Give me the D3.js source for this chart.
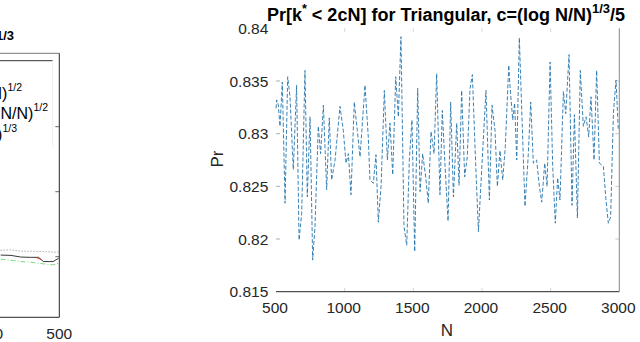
<!DOCTYPE html>
<html>
<head>
<meta charset="utf-8">
<script src="https://cdn.jsdelivr.net/npm/d3@7"></script>
<style>
  body { margin: 0; background: #fff; }
  svg { display: block; font-family: "Liberation Sans", Arial, Helvetica, sans-serif; }
</style>
</head>
<body>
<div id="chart"></div>
<script>
// right panel: Pr[k* < 2cN] vs N
let prN = [500, 505, 517, 529, 546, 566, 585, 602, 626, 650, 668, 687, 711, 728, 748, 767, 784, 808, 825, 845,
  869, 888, 905, 930, 966, 990, 1010, 1027, 1046, 1070, 1092, 1112, 1148, 1172, 1184, 1209, 1228, 1245, 1265, 1289,
  1311, 1330, 1350, 1372, 1391, 1410, 1432, 1452, 1471, 1490, 1510, 1532, 1549, 1568, 1590, 1609, 1629, 1651, 1670, 1694,
  1711, 1731, 1753, 1772, 1792, 1816, 1833, 1852, 1874, 1893, 1913, 1930, 1949, 1974, 1998, 2029, 2054, 2073, 2095, 2112,
  2131, 2151, 2170, 2195, 2204, 2224, 2238, 2253, 2272, 2292, 2313, 2335, 2355, 2374, 2398, 2418, 2435, 2457, 2474, 2496,
  2515, 2534, 2551, 2568, 2593, 2610, 2634, 2656, 2673, 2695, 2716, 2738, 2758, 2777, 2794, 2816, 2835, 2855, 2884, 2903,
  2920, 2937, 2957, 2976, 2993];
let prVal = [0.8324, 0.8332, 0.8327, 0.8307, 0.8349, 0.8234, 0.8354, 0.8335, 0.8266, 0.8346, 0.8199, 0.8224, 0.8360, 0.8240, 0.8316, 0.8180, 0.8212, 0.8307, 0.8281, 0.8327,
  0.8247, 0.8315, 0.8256, 0.8275, 0.8326, 0.8303, 0.8272, 0.8281, 0.8242, 0.8330, 0.8303, 0.8278, 0.8346, 0.8297, 0.8256, 0.8253, 0.8280, 0.8216, 0.8250, 0.8341,
  0.8275, 0.8310, 0.8261, 0.8354, 0.8316, 0.8392, 0.8212, 0.8194, 0.8275, 0.8313, 0.8188, 0.8343, 0.8245, 0.8281, 0.8259, 0.8234, 0.8302, 0.8281, 0.8357, 0.8242,
  0.8322, 0.8269, 0.8217, 0.8330, 0.8240, 0.8310, 0.8251, 0.8341, 0.8259, 0.8278, 0.8343, 0.8356, 0.8288, 0.8207, 0.8266, 0.8341, 0.8237, 0.8327, 0.8303, 0.8250,
  0.8284, 0.8256, 0.8288, 0.8365, 0.8345, 0.8313, 0.8329, 0.8275, 0.8391, 0.8313, 0.8231, 0.8275, 0.8330, 0.8272, 0.8275, 0.8250, 0.8235, 0.8272, 0.8250, 0.8368,
  0.8269, 0.8215, 0.8258, 0.8237, 0.8340, 0.8319, 0.8375, 0.8232, 0.8318, 0.8220, 0.8360, 0.8307, 0.8316, 0.8297, 0.8335, 0.8275, 0.8360, 0.8272, 0.8269, 0.8237,
  0.8215, 0.8221, 0.8319, 0.8351, 0.8303];
let xTicks = [500, 1000, 1500, 2000, 2500, 3000];
let yTicks = [0.815, 0.82, 0.825, 0.83, 0.835, 0.84];

// left panel (cut off by the picture edge)
let leftN = [415, 430, 444, 458, 470, 477, 485, 491, 499];
let leftDotted = [0.420, 0.421, 0.417, 0.417, 0.416, 0.416, 0.415, 0.414, 0.414];
let leftSolid = [0.405, 0.404, 0.399, 0.398, 0.398, 0.385, 0.385, 0.385, 0.395];
let leftGreen = [0.392, 0.389, 0.385, 0.383, 0.380, 0.378, 0.376, 0.375, 0.380];
let redN = [466, 474];
let leftRed = [0.398, 0.391];
let leftYTicks = [0.4, 0.6, 0.8];
let legendLabels = [["c=(1/N)", "1/2"], ["c=(log N/N)", "1/2"], ["c=(1/N)", "1/3"]];

let width = 640, height = 342;
let margin = ({ top: 28.3, right: 20.7, bottom: 50.3, left: 276 });

let svg = d3.select("#chart").append("svg")
  .attr("width", width).attr("height", height);

// ---------- right panel ----------
let x = d3.scaleLinear().domain([500, 3000]).range([margin.left, width - margin.right]);
let y = d3.scaleLinear().domain([0.815, 0.84]).range([height - margin.bottom, margin.top]);

let g = svg.append("g");

// faint inward ticks on all sides
g.selectAll(".yt").data(yTicks.slice(1, 5)).join("line")
  .attr("x1", x(500)).attr("x2", x(500) + 4)
  .attr("y1", d => y(d)).attr("y2", d => y(d))
  .attr("stroke", "#999").attr("stroke-width", 0.8);
g.selectAll(".yt2").data(yTicks.slice(1, 5)).join("line")
  .attr("x1", x(3000) - 4).attr("x2", x(3000))
  .attr("y1", d => y(d)).attr("y2", d => y(d))
  .attr("stroke", "#bbb").attr("stroke-width", 0.8);
g.selectAll(".xt").data(xTicks.slice(1, 5)).join("line")
  .attr("x1", d => x(d)).attr("x2", d => x(d))
  .attr("y1", y(0.84)).attr("y2", y(0.84) + 4)
  .attr("stroke", "#ccc").attr("stroke-width", 0.8);
g.selectAll(".xt2").data(xTicks.slice(1, 5)).join("line")
  .attr("x1", d => x(d)).attr("x2", d => x(d))
  .attr("y1", y(0.815) - 4).attr("y2", y(0.815))
  .attr("stroke", "#ccc").attr("stroke-width", 0.8);

// axis lines: bottom dark, right grey
g.append("line").attr("x1", x(500)).attr("x2", x(3000)).attr("y1", y(0.815)).attr("y2", y(0.815))
  .attr("stroke", "#262626").attr("stroke-width", 1);
g.append("line").attr("x1", x(3000)).attr("x2", x(3000)).attr("y1", y(0.84)).attr("y2", y(0.815))
  .attr("stroke", "#888").attr("stroke-width", 1);

// tick labels
g.selectAll(".xl").data(xTicks).join("text")
  .attr("x", d => x(d) - 1).attr("y", y(0.815) + 21.5)
  .attr("text-anchor", "middle").attr("font-size", 15.5).attr("fill", "#262626")
  .text(d => d);
g.selectAll(".yl").data(yTicks).join("text")
  .attr("x", x(500) - 7.7).attr("y", d => y(d)).attr("dy", "0.36em")
  .attr("text-anchor", "end").attr("font-size", 15.5).attr("fill", "#262626")
  .text(d => d3.format("")(d));

// data line
let line = d3.line().x((d, i) => x(prN[i])).y(d => y(d));
g.append("path").datum(prVal)
  .attr("d", line)
  .attr("fill", "none")
  .attr("stroke", "#2474ab")
  .attr("stroke-width", 0.9)
  .attr("stroke-dasharray", "4,2");

// axis titles
g.append("text").attr("x", 447).attr("y", 336)
  .attr("text-anchor", "middle").attr("font-size", 17).attr("fill", "#262626").text("N");
g.append("text").attr("transform", "translate(223,159) rotate(-90)")
  .attr("text-anchor", "middle").attr("font-size", 17).attr("fill", "#262626").text("Pr");

// title
let title = g.append("text").attr("x", 446).attr("y", 21)
  .attr("text-anchor", "middle").attr("font-size", 18).attr("font-weight", "bold").attr("fill", "#000");
title.append("tspan").text("Pr[k");
title.append("tspan").attr("dy", -8).attr("font-size", 12.5).text("*");
title.append("tspan").attr("dy", 8).text(" < 2cN] for Triangular, c=(log N/N)");
title.append("tspan").attr("dy", -8).attr("font-size", 13).text("1/3");
title.append("tspan").attr("dy", 8).text("/5");

// ---------- left panel ----------
let xL = d3.scaleLinear().domain([400, 500]).range([-9.7, 59.3]);
let yL = d3.scaleLinear().domain([0.4, 0.8]).range([256.7, 126.7]);
let boxTop = 53.3, boxBottom = 317.3;

let lg = svg.append("g");
lg.append("line").attr("x1", 0).attr("x2", xL(500)).attr("y1", boxTop).attr("y2", boxTop)
  .attr("stroke", "#777").attr("stroke-width", 1);
lg.append("line").attr("x1", xL(500)).attr("x2", xL(500)).attr("y1", boxTop).attr("y2", boxBottom)
  .attr("stroke", "#262626").attr("stroke-width", 1);
lg.append("line").attr("x1", 0).attr("x2", xL(500)).attr("y1", boxBottom).attr("y2", boxBottom)
  .attr("stroke", "#262626").attr("stroke-width", 1);
lg.selectAll(".lt").data(leftYTicks).join("line")
  .attr("x1", xL(500) - 4).attr("x2", xL(500))
  .attr("y1", d => yL(d)).attr("y2", d => yL(d))
  .attr("stroke", "#444").attr("stroke-width", 0.8);

let lineL = d3.line().x((d, i) => xL(leftN[i])).y(d => yL(d));
lg.append("path").datum(leftGreen).attr("d", lineL).attr("fill", "none")
  .attr("stroke", "#7fd87f").attr("stroke-width", 1).attr("stroke-dasharray", "5,2,1,2");
lg.append("path").datum(leftDotted).attr("d", lineL).attr("fill", "none")
  .attr("stroke", "#666").attr("stroke-width", 0.8).attr("stroke-dasharray", "1,2");
lg.append("path").datum(leftSolid).attr("d", lineL).attr("fill", "none")
  .attr("stroke", "#222").attr("stroke-width", 0.9);
lg.append("path").datum(leftRed)
  .attr("d", d3.line().x((d, i) => xL(redN[i])).y(d => yL(d)))
  .attr("fill", "none").attr("stroke", "#d33").attr("stroke-width", 0.9);

// legend box (only its right part is in view)
lg.append("rect").attr("x", -60).attr("y", 60.7).attr("width", 112.7).attr("height", 86)
  .attr("fill", "#fff").attr("stroke", "none");
lg.append("line").attr("x1", 0).attr("x2", 52.7).attr("y1", 60.7).attr("y2", 60.7)
  .attr("stroke", "#333").attr("stroke-width", 1);
lg.append("line").attr("x1", 52.7).attr("x2", 52.7).attr("y1", 60.7).attr("y2", 146.7)
  .attr("stroke", "#eee").attr("stroke-width", 1);

let legendEnds = [22, 48, 17];
let legendBase = [99, 119, 140];
legendLabels.forEach((lab, i) => {
  let t = lg.append("text").attr("x", legendEnds[i]).attr("y", legendBase[i])
    .attr("text-anchor", "end").attr("font-size", 16).attr("fill", "#000");
  t.append("tspan").text(lab[0]);
  t.append("tspan").attr("dy", -8).attr("font-size", 10.5).text(lab[1]);
});

// left title tail
let lt = lg.append("text").attr("x", 14).attr("y", 46)
  .attr("text-anchor", "end").attr("font-size", 17).attr("font-weight", "bold").attr("fill", "#000");
lt.append("tspan").text("c=(log N/N)");
lt.append("tspan").attr("dy", -6).attr("font-size", 13).text("1/3");

// left x tick labels
lg.selectAll(".lxl").data([400, 500]).join("text")
  .attr("x", d => xL(d)).attr("y", 339.3)
  .attr("text-anchor", "middle").attr("font-size", 15.5).attr("fill", "#262626")
  .text(d => d);
</script>
</body>
</html>
